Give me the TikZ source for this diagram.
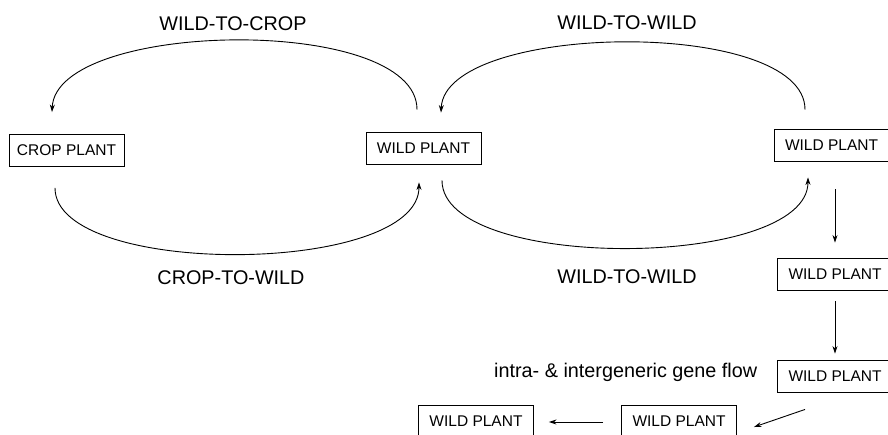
\documentclass[tikz,border=0pt]{standalone}
\usepackage{fontspec}
\setmainfont{Liberation Sans}
\usetikzlibrary{arrows.meta}
\begin{document}
\begin{tikzpicture}[x=1pt,y=-1pt,
  plantbox/.style={draw, line width=0.9pt, minimum width=115pt, minimum height=32pt, inner sep=0pt, font=\fontsize{15.5}{18}\selectfont},
  biglabel/.style={anchor=base, inner sep=0pt, font=\fontsize{19.8}{23}\selectfont},
  flow/.style={line width=0.9pt, -{Stealth[length=7.5pt,width=5pt]}}]
\clip (0,0) rectangle (888,434);
\node[plantbox] (crop) at (66.5,150.5) {CROP PLANT};
\node[plantbox] (w1) at (423.5,148) {WILD PLANT};
\node[plantbox] (w2) at (831.5,145) {WILD PLANT};
\node[plantbox] (w3) at (835,274) {WILD PLANT};
\node[plantbox] (w4) at (835,376) {WILD PLANT};
\node[plantbox] (w5) at (679,421) {WILD PLANT};
\node[plantbox] (w6) at (476,421) {WILD PLANT};
\node[biglabel] (l1) at (233,30) {WILD-TO-CROP};
\node[biglabel] (l2) at (627,29) {WILD-TO-WILD};
\node[biglabel] (l3) at (231,284) {CROP-TO-WILD};
\node[biglabel] (l4) at (627,283) {WILD-TO-WILD};
\node[biglabel, anchor=base west] (l5) at (494,377) {intra- \& intergeneric gene flow};
% arcs
\draw[flow] ([shift={(-6.5,-22)}]w1.north) .. controls (417,14) and (56,20) .. ([shift={(-14.5,-22)}]crop.north);
\draw[flow] ([shift={(-11.5,21)}]crop.south) .. controls (55,278) and (419,276) .. ([shift={(-4.5,18)}]w1.south);
\draw[flow] ([shift={(-26.5,-19)}]w2.north) .. controls (805,17) and (445,22) .. ([shift={(17.5,-19)}]w1.north);
\draw[flow] ([shift={(18.5,16)}]w1.south) .. controls (442,272) and (808,270) .. ([shift={(-23.5,16)}]w2.south);
% straight arrows
\draw[flow] ([shift={(3.5,28)}]w2.south) -- ([shift={(0,-15)}]w3.north);
\draw[flow] ([shift={(0,11)}]w3.south) -- ([shift={(0,-6)}]w4.north);
\draw[flow] ([shift={(-30,17)}]w4.south) -- ([shift={(17,6)}]w5.east);
\draw[flow] ([shift={(-18,1)}]w5.west) -- ([shift={(15,1)}]w6.east);
\end{tikzpicture}
\end{document}
